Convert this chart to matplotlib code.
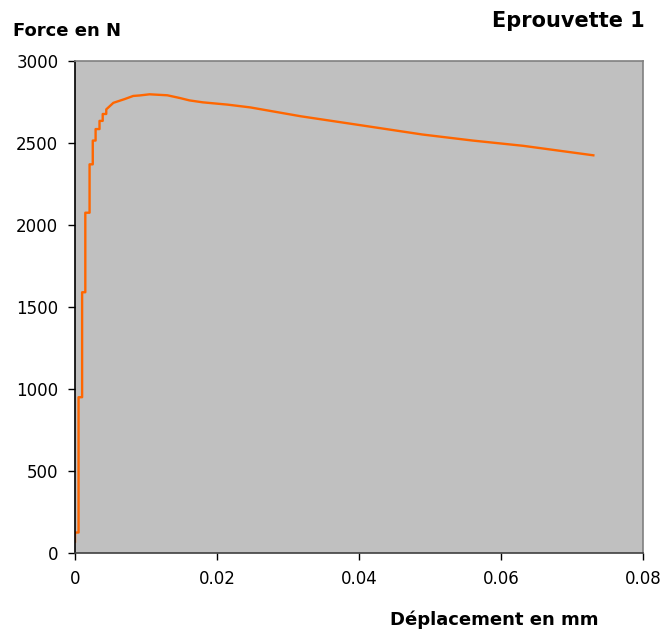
import matplotlib
matplotlib.use("Agg")
import matplotlib.pyplot as plt

# Displacement (mm) and force (N)
deplacement = [0.00000, 0.00000, 0.00050, 0.00050, 0.00100, 0.00100, 0.00145, 0.00145,
               0.00205, 0.00205, 0.00250, 0.00250, 0.00290, 0.00290, 0.00345, 0.00345,
               0.00390, 0.00390, 0.00440, 0.00440, 0.0054, 0.0063, 0.0070, 0.0082,
               0.0091, 0.0105, 0.0130, 0.0148, 0.0161, 0.0180, 0.0215, 0.0247,
               0.0318, 0.0403, 0.0489, 0.0560, 0.0631, 0.0730]
force = [70, 125, 125, 950, 950, 1590, 1590, 2075,
         2075, 2370, 2370, 2515, 2515, 2585, 2585, 2635,
         2635, 2677, 2677, 2705, 2745, 2758, 2768, 2787,
         2790, 2797, 2791, 2774, 2760, 2748, 2734, 2717,
         2663, 2608, 2552, 2515, 2483, 2425]

xticks = [0, 0.02, 0.04, 0.06, 0.08]
yticks = [0, 500, 1000, 1500, 2000, 2500, 3000]

plt.rcParams['font.family'] = ['DejaVu Sans']

fig = plt.figure(figsize=(6.65, 6.29), dpi=100)
ax = fig.add_axes([0.1128, 0.1208, 0.8542, 0.7822])
ax.set_facecolor('#C0C0C0')

ax.plot(deplacement, force, color='#FF6600', linewidth=1.7)

ax.set_xlim(0, 0.08)
ax.set_ylim(0, 3000)
ax.set_xticks(xticks)
ax.set_xticklabels(['0', '0.02', '0.04', '0.06', '0.08'])
ax.set_yticks(yticks)
ax.tick_params(direction='out', length=5, width=1, labelsize=12)
ax.tick_params(axis='y', pad=7)
ax.tick_params(axis='x', pad=7)

ax.spines['left'].set_color('black')
ax.spines['bottom'].set_color('#404040')
ax.spines['top'].set_color('#808080')
ax.spines['right'].set_color('#808080')
for s in ax.spines.values():
    s.set_linewidth(1.2)

fig.text(13 / 665, 1 - 31 / 629, 'Force en N', fontsize=13, fontweight='bold',
         ha='left', va='center')
fig.text(645 / 665, 1 - 21 / 629, 'Eprouvette 1', fontsize=15, fontweight='bold',
         ha='right', va='center')
fig.text(494 / 665, 1 - 620 / 629, 'Déplacement en mm', fontsize=13, fontweight='bold',
         ha='center', va='center')

fig.savefig('out.png', dpi=100)
